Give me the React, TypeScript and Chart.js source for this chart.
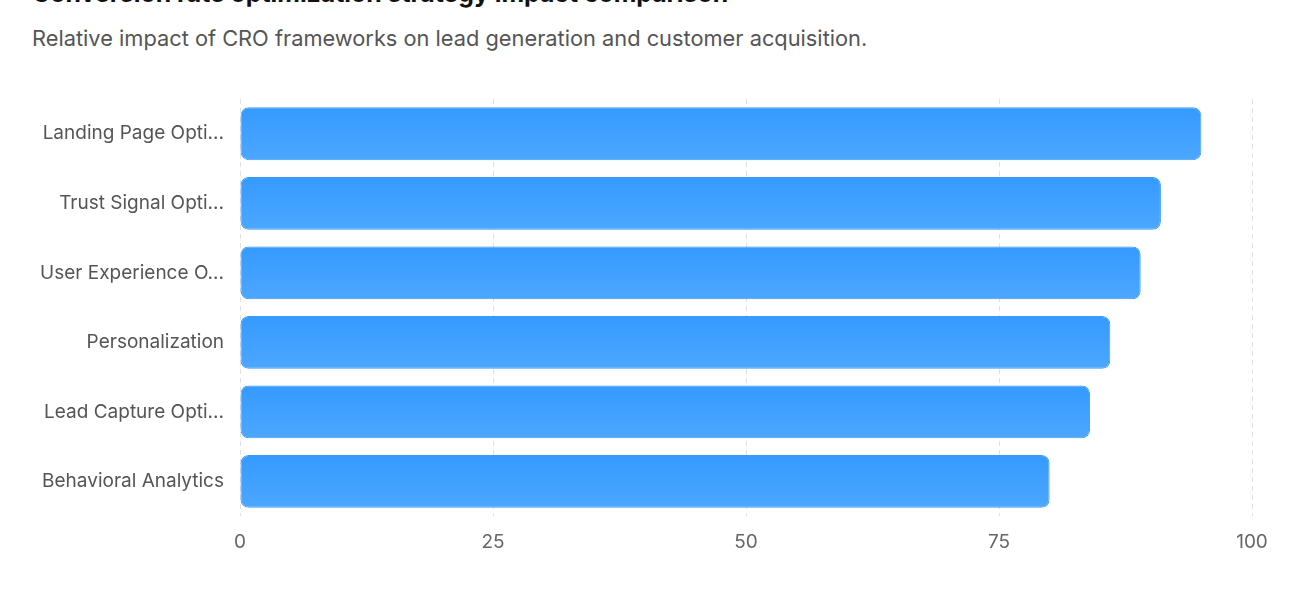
import React, { useEffect, useRef } from 'react';
import { Chart, registerables } from 'chart.js';

Chart.register(...registerables);

const strategies: string[] = [
  'Landing Page Optimization',
  'Trust Signal Optimization',
  'User Experience Optimization',
  'Personalization',
  'Lead Capture Optimization',
  'Behavioral Analytics',
];
const impactScores: number[] = [95, 91, 89, 86, 84, 80];
const xTicks: number[] = [0, 25, 50, 75, 100];

const FONT = 'Inter, "Noto Sans", "DejaVu Sans", sans-serif';

const shorten = (s: string) => (s.length > 20 ? s.slice(0, 17) + '...' : s);

const App = () => {
  const canvasRef = useRef<HTMLCanvasElement>(null);

  useEffect(() => {
    if (!canvasRef.current) return;
    const chart = new Chart(canvasRef.current, {
      type: 'bar',
      data: {
        labels: strategies,
        datasets: [
          {
            label: 'Impact',
            data: impactScores,
            // vertical gradient per bar, built from the y scale
            backgroundColor: (ctx: any) => {
              const c = ctx.chart;
              const yScale = c.scales && c.scales.y;
              const area = c.chartArea;
              if (!yScale || !area || ctx.dataIndex === undefined) return '#3f9fff';
              const mid = yScale.getPixelForValue(ctx.dataIndex);
              const half = ((area.bottom - area.top) / strategies.length) * 0.76 / 2;
              if (!isFinite(mid)) return '#3f9fff';
              const g = c.ctx.createLinearGradient(0, mid - half, 0, mid + half);
              g.addColorStop(0, '#359aff');
              g.addColorStop(1, '#4ca7ff');
              return g;
            },
            borderColor: '#3a9bf6',
            borderWidth: 1,
            borderRadius: 8,
            borderSkipped: false,
            categoryPercentage: 0.8,
            barPercentage: 0.95,
          },
        ],
      },
      options: {
        indexAxis: 'y',
        animation: false,
        responsive: false,
        maintainAspectRatio: false,
        layout: { padding: { top: 9, right: 36, bottom: 1, left: 0 } },
        plugins: {
          legend: { display: false },
          tooltip: { enabled: false },
        },
        scales: {
          x: {
            min: 0,
            max: 100,
            afterBuildTicks: (axis: any) => {
              axis.ticks = xTicks.map((v) => ({ value: v }));
            },
            grid: {
              color: '#e2e2e2',
              drawTicks: false,
              lineWidth: 1,
            },
            border: { display: false, dash: [5, 4] },
            ticks: {
              padding: 15,
              color: '#666666',
              font: { family: FONT, size: 19 },
            },
          },
          y: {
            afterFit: (axis: any) => {
              axis.width = 216;
              axis.paddingTop = 0;
              axis.paddingBottom = 0;
            },
            grid: { display: false, drawTicks: false },
            border: { display: false },
            ticks: {
              padding: 16,
              color: '#555555',
              font: { family: FONT, size: 19 },
              callback: (_v: any, i: number) => shorten(strategies[i]),
            },
          },
        },
      },
    });
    return () => {
      chart.destroy();
    };
  }, []);

  return (
    <div style={{ position: 'absolute', left: 0, top: 0, width: 1312, height: 596, overflow: 'hidden', background: '#fff', fontFamily: FONT }}>
      <div style={{ position: 'absolute', left: 32, top: -22, fontSize: 24.8, fontWeight: 700, color: '#111', whiteSpace: 'nowrap' }}>
        Conversion rate optimization strategy impact comparison
      </div>
      <div style={{ position: 'absolute', left: 32, top: 25, fontSize: 21.8, color: '#555', whiteSpace: 'nowrap' }}>
        Relative impact of CRO frameworks on lead generation and customer acquisition.
      </div>
      <canvas ref={canvasRef} width={1264} height={480} style={{ position: 'absolute', left: 24, top: 90, width: 1264, height: 480 }} />
    </div>
  );
};

export default App;
